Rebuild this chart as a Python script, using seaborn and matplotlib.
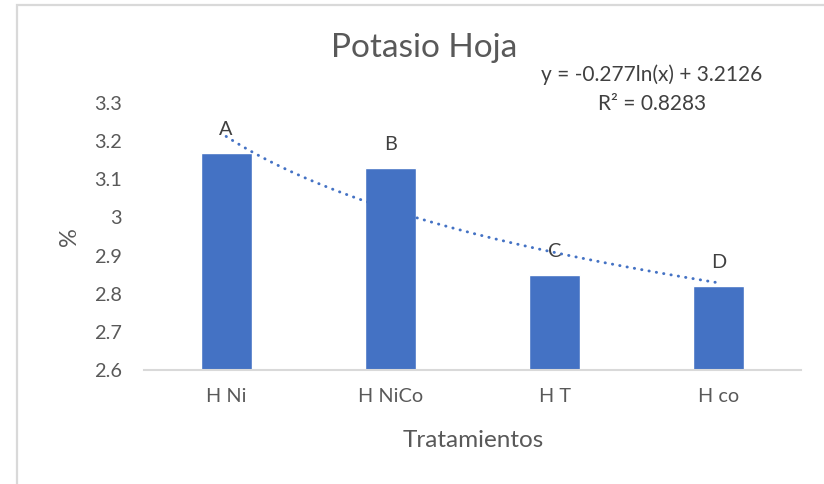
import numpy as np
import pandas as pd
import matplotlib
matplotlib.use('Agg')
import matplotlib.pyplot as plt
import seaborn as sns
from matplotlib.patches import Rectangle

# Data
tratamientos = ['H Ni', 'H NiCo', 'H T', 'H co']
potasio = [3.17, 3.13, 2.85, 2.82]
letras = ['A', 'B', 'C', 'D']
ecuacion = 'y = -0.277ln(x) + 3.2126'
r2_texto = 'R² = 0.8283'

sns.set_style('white')
plt.rcParams['font.family'] = ['Lato', 'DejaVu Sans']

df = pd.DataFrame({'Tratamientos': tratamientos, 'K': potasio})

fig = plt.figure(figsize=(8.24, 4.84), dpi=100)
ax = fig.add_axes([0.1748, 0.2355, 0.972 - 0.1748, 0.787 - 0.2355])

sns.barplot(data=df, x='Tratamientos', y='K', order=tratamientos,
            color='#4472C4', saturation=1, width=0.31, ax=ax)

# Logarithmic trendline fitted to the bars
xs = np.arange(1, len(potasio) + 1)
b, a = np.polyfit(np.log(xs), potasio, 1)
xx = np.linspace(1, len(potasio), 200)
ax.plot(xx - 1, b * np.log(xx) + a, color='#4472C4', lw=2.1,
        linestyle=(0, (0.1, 2.45)), dash_capstyle='round', zorder=3)

# Letters above bars
for i, (v, l) in enumerate(zip(potasio, letras)):
    ax.annotate(l, (i, v), xytext=(0, 17), textcoords='offset points',
                ha='center', va='center', fontsize=14.3, color='#404040')

ax.set_ylim(2.6, 3.3)
ax.set_yticks(np.arange(2.6, 3.31, 0.1))
ax.set_yticklabels(['2.6', '2.7', '2.8', '2.9', '3', '3.1', '3.2', '3.3'])
ax.set_xlim(-0.5, len(tratamientos) - 0.5)

for s in ['top', 'right', 'left']:
    ax.spines[s].set_visible(False)
ax.spines['bottom'].set_color('#D9D9D9')
ax.spines['bottom'].set_linewidth(1.5)
ax.tick_params(axis='both', length=0, labelsize=14.3, colors='#595959')
ax.tick_params(axis='y', pad=16)
ax.tick_params(axis='x', pad=13)

ax.set_xlabel('Tratamientos', fontsize=17.5, color='#595959', va='center')
ax.xaxis.set_label_coords(0.5 + (473.5 - 472.5) / 657, -71 / 267)
ax.set_ylabel('%', fontsize=17, color='#595959', va='center')
ax.yaxis.set_label_coords(-75 / 657, 0.5)

fig.text(424 / 824, 1 - 57 / 484, 'Potasio Hoja', ha='center', va='baseline',
         fontsize=24, color='#595959')
fig.text(652 / 824, 1 - 81 / 484, ecuacion, ha='center', va='baseline',
         fontsize=15, color='#404040')
fig.text(652 / 824, 1 - 110 / 484, r2_texto, ha='center', va='baseline',
         fontsize=15, color='#404040')

# Chart area border
fig.patches.append(Rectangle((17 / 824, -0.1), 1.2, 1 - 5 / 484 + 0.1,
                             transform=fig.transFigure, fill=False,
                             edgecolor='#D9D9D9', lw=1.6))

fig.savefig('out.png', dpi=100)
